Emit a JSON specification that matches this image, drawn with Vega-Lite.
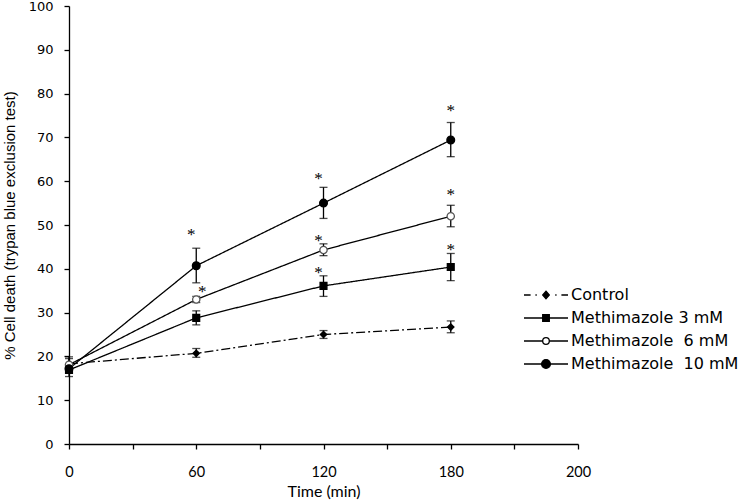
{
  "$schema": "https://vega.github.io/schema/vega-lite/v6.json",
  "width": 509,
  "height": 438,
  "autosize": "none",
  "padding": {"left": 69, "top": 6, "right": 166, "bottom": 60},
  "background": "white",
  "config": {"view": {"stroke": null}, "font": "Liberation Sans"},
  "datasets": {
    "pts": [
      {"series": "Control", "time": 0, "mean": 18.3, "lo": 17.2, "hi": 19.5},
      {"series": "Control", "time": 60, "mean": 20.7, "lo": 19.8, "hi": 21.8},
      {"series": "Control", "time": 120, "mean": 25.0, "lo": 24.1, "hi": 25.9},
      {"series": "Control", "time": 180, "mean": 26.7, "lo": 25.4, "hi": 28.1},
      {"series": "Methimazole 3 mM", "time": 0, "mean": 16.9, "lo": 15.4, "hi": 18.3},
      {"series": "Methimazole 3 mM", "time": 60, "mean": 28.8, "lo": 27.2, "hi": 30.4},
      {"series": "Methimazole 3 mM", "time": 120, "mean": 36.1, "lo": 33.7, "hi": 38.4},
      {"series": "Methimazole 3 mM", "time": 180, "mean": 40.4, "lo": 37.3, "hi": 43.5},
      {"series": "Methimazole 6 mM", "time": 0, "mean": 18.1, "lo": 16.8, "hi": 19.9},
      {"series": "Methimazole 6 mM", "time": 60, "mean": 33.0, "lo": 32.3, "hi": 33.7},
      {"series": "Methimazole 6 mM", "time": 120, "mean": 44.3, "lo": 43.0, "hi": 45.7},
      {"series": "Methimazole 6 mM", "time": 180, "mean": 52.0, "lo": 49.6, "hi": 54.5},
      {"series": "Methimazole 10 mM", "time": 0, "mean": 17.2, "lo": 16.2, "hi": 18.2},
      {"series": "Methimazole 10 mM", "time": 60, "mean": 40.7, "lo": 36.8, "hi": 44.7},
      {"series": "Methimazole 10 mM", "time": 120, "mean": 55.0, "lo": 51.5, "hi": 58.6},
      {"series": "Methimazole 10 mM", "time": 180, "mean": 69.4, "lo": 65.6, "hi": 73.4}
    ],
    "stars": [
      {"series": "Methimazole 10 mM", "time": 60, "y": 48.3},
      {"series": "Methimazole 6 mM", "time": 60, "y": 35.4},
      {"series": "Methimazole 10 mM", "time": 120, "y": 61.2},
      {"series": "Methimazole 6 mM", "time": 120, "y": 47.1},
      {"series": "Methimazole 3 mM", "time": 120, "y": 39.7},
      {"series": "Methimazole 10 mM", "time": 180, "y": 76.7},
      {"series": "Methimazole 6 mM", "time": 180, "y": 57.5},
      {"series": "Methimazole 3 mM", "time": 180, "y": 45.0}
    ]
  },
  "layer": [
    {
      "data": {"name": "pts"},
      "mark": {"type": "line", "color": "black", "strokeWidth": 1.3},
      "encoding": {
        "x": {
          "field": "time", "type": "ordinal",
          "scale": {"type": "point", "domain": [0, 30, 60, 90, 120, 150, 180, 190, 200], "padding": 0},
          "axis": {
            "title": "Time (min)", "titleFont": "Lato", "titleFontSize": 16, "titleFontWeight": "normal", "titleColor": "black", "titlePadding": 5,
            "labelFont": "Lato", "labelFontSize": 14.5, "labelColor": "black", "labelAngle": 0, "labelPadding": 16,
            "labelExpr": "indexof([0,60,120,180,200], datum.value) >= 0 ? datum.label : ''",
            "tickSize": 5, "tickColor": "black", "tickWidth": 1.3, "domainColor": "black", "domainWidth": 1.3, "grid": false
          }
        },
        "y": {
          "field": "mean", "type": "quantitative",
          "scale": {"domain": [0, 100], "nice": false},
          "axis": {
            "title": "% Cell death (trypan blue exclusion test)", "titleFontSize": 15, "titleFontWeight": "normal", "titleColor": "black", "titlePadding": 11,
            "labelFont": "DejaVu Sans", "labelFontSize": 13, "labelColor": "black", "labelPadding": 11,
            "values": [0, 10, 20, 30, 40, 50, 60, 70, 80, 90, 100],
            "tickSize": 5, "tickColor": "black", "tickWidth": 1.3, "domainColor": "black", "domainWidth": 1.3, "grid": false
          }
        },
        "strokeDash": {
          "field": "series", "type": "nominal",
          "scale": {"domain": ["Control", "Methimazole 3 mM", "Methimazole 6 mM", "Methimazole 10 mM"], "range": [[9, 3, 2, 3], [1, 0], [1, 0], [1, 0]]},
          "legend": null
        }
      }
    },
    {
      "data": {"name": "pts"},
      "mark": {"type": "rule", "color": "black", "strokeWidth": 1.3},
      "encoding": {
        "x": {"field": "time", "type": "ordinal"},
        "y": {"field": "lo", "type": "quantitative"},
        "y2": {"field": "hi"}
      }
    },
    {
      "data": {"name": "pts"},
      "mark": {"type": "tick", "color": "black", "size": 8, "thickness": 1.3, "orient": "horizontal"},
      "encoding": {
        "x": {"field": "time", "type": "ordinal"},
        "y": {"field": "lo", "type": "quantitative"}
      }
    },
    {
      "data": {"name": "pts"},
      "mark": {"type": "tick", "color": "black", "size": 8, "thickness": 1.3, "orient": "horizontal"},
      "encoding": {
        "x": {"field": "time", "type": "ordinal"},
        "y": {"field": "hi", "type": "quantitative"}
      }
    },
    {
      "data": {"name": "pts"},
      "mark": {"type": "point", "strokeWidth": 1.3, "opacity": 1},
      "encoding": {
        "x": {"field": "time", "type": "ordinal"},
        "y": {"field": "mean", "type": "quantitative"},
        "shape": {"field": "series", "type": "nominal", "scale": {"domain": ["Control", "Methimazole 3 mM", "Methimazole 6 mM", "Methimazole 10 mM"], "range": ["diamond", "square", "circle", "circle"]}, "legend": null},
        "fill": {"field": "series", "type": "nominal", "scale": {"domain": ["Control", "Methimazole 3 mM", "Methimazole 6 mM", "Methimazole 10 mM"], "range": ["black", "black", "white", "black"]}, "legend": null},
        "stroke": {"field": "series", "type": "nominal", "scale": {"domain": ["Control", "Methimazole 3 mM", "Methimazole 6 mM", "Methimazole 10 mM"], "range": ["black", "black", "#555555", "black"]}, "legend": null},
        "size": {"field": "series", "type": "nominal", "scale": {"domain": ["Control", "Methimazole 3 mM", "Methimazole 6 mM", "Methimazole 10 mM"], "range": [40, 60, 55, 90]}, "legend": null}
      }
    },
    {
      "data": {"name": "stars"},
      "transform": [{"filter": "datum.time == 180"}],
      "mark": {"type": "text", "text": "*", "font": "Liberation Serif", "fontSize": 17, "fill": "black", "baseline": "alphabetic", "dy": 8},
      "encoding": {
        "x": {"field": "time", "type": "ordinal"},
        "y": {"field": "y", "type": "quantitative"}
      }
    },
    {
      "data": {"name": "stars"},
      "transform": [{"filter": "datum.time != 180 && !(datum.time == 60 && datum.series == 'Methimazole 6 mM')"}],
      "mark": {"type": "text", "text": "*", "font": "Liberation Serif", "fontSize": 17, "fill": "black", "baseline": "alphabetic", "dy": 8, "dx": -5},
      "encoding": {
        "x": {"field": "time", "type": "ordinal"},
        "y": {"field": "y", "type": "quantitative"}
      }
    },
    {
      "data": {"name": "stars"},
      "transform": [{"filter": "datum.time == 60 && datum.series == 'Methimazole 6 mM'"}],
      "mark": {"type": "text", "text": "*", "font": "Liberation Serif", "fontSize": 17, "fill": "black", "baseline": "alphabetic", "dy": 8, "dx": 6},
      "encoding": {
        "x": {"field": "time", "type": "ordinal"},
        "y": {"field": "y", "type": "quantitative"}
      }
    },
    {
      "data": {"values": []},
      "mark": {"type": "point", "filled": true, "strokeWidth": 1.3, "opacity": 1},
      "encoding": {
        "shape": {
          "field": "series", "type": "nominal",
          "scale": {
            "domain": ["Control", "Methimazole 3 mM", "Methimazole 6 mM", "Methimazole 10 mM"],
            "range": [
              "M-1,0H-0.7M-0.48,0H-0.42M0,-0.17L0.15,0L0,0.17L-0.15,0ZM0.42,0H0.48M0.7,0H1",
              "M-1,0H1M-0.15,-0.15H0.15V0.15H-0.15Z",
              "M-1,0H-0.15M0.15,0H1M-0.15,0A0.15,0.15,0,1,0,0.15,0A0.15,0.15,0,1,0,-0.15,0Z",
              "M-1,0H1M-0.2,0A0.2,0.2,0,1,0,0.2,0A0.2,0.2,0,1,0,-0.2,0Z"
            ]
          },
          "legend": {
            "title": null, "orient": "none", "legendX": 454, "legendY": 281, "padding": 0,
            "symbolSize": 1936, "clipHeight": 16, "rowPadding": 7,
            "symbolStrokeColor": "black", "symbolStrokeWidth": 1.3,
            "labelFont": "DejaVu Sans", "labelFontSize": 16, "labelColor": "black", "labelOffset": 2, "labelLimit": 300,
            "labelExpr": "datum.label == 'Control' || datum.label == 'Methimazole 3 mM' ? datum.label : replace(datum.label, ' ', '\u00a0 ')"
          }
        },
        "fill": {
          "field": "series", "type": "nominal",
          "scale": {"domain": ["Control", "Methimazole 3 mM", "Methimazole 6 mM", "Methimazole 10 mM"], "range": ["black", "black", "white", "black"]},
          "legend": {
            "title": null, "orient": "none", "legendX": 454, "legendY": 281, "padding": 0,
            "symbolSize": 1936, "clipHeight": 16, "rowPadding": 7,
            "symbolStrokeColor": "black", "symbolStrokeWidth": 1.3,
            "labelFont": "DejaVu Sans", "labelFontSize": 16, "labelColor": "black", "labelOffset": 2, "labelLimit": 300,
            "labelExpr": "datum.label == 'Control' || datum.label == 'Methimazole 3 mM' ? datum.label : replace(datum.label, ' ', '\u00a0 ')"
          }
        },
        "stroke": {
          "field": "series", "type": "nominal",
          "scale": {"domain": ["Control", "Methimazole 3 mM", "Methimazole 6 mM", "Methimazole 10 mM"], "range": ["black", "black", "black", "black"]},
          "legend": {
            "title": null, "orient": "none", "legendX": 454, "legendY": 281, "padding": 0,
            "symbolSize": 1936, "clipHeight": 16, "rowPadding": 7,
            "symbolStrokeColor": "black", "symbolStrokeWidth": 1.3,
            "labelFont": "DejaVu Sans", "labelFontSize": 16, "labelColor": "black", "labelOffset": 2, "labelLimit": 300,
            "labelExpr": "datum.label == 'Control' || datum.label == 'Methimazole 3 mM' ? datum.label : replace(datum.label, ' ', '\u00a0 ')"
          }
        }
      }
    }
  ],
  "resolve": {"scale": {"shape": "independent", "fill": "independent", "stroke": "independent", "size": "independent"}}
}
